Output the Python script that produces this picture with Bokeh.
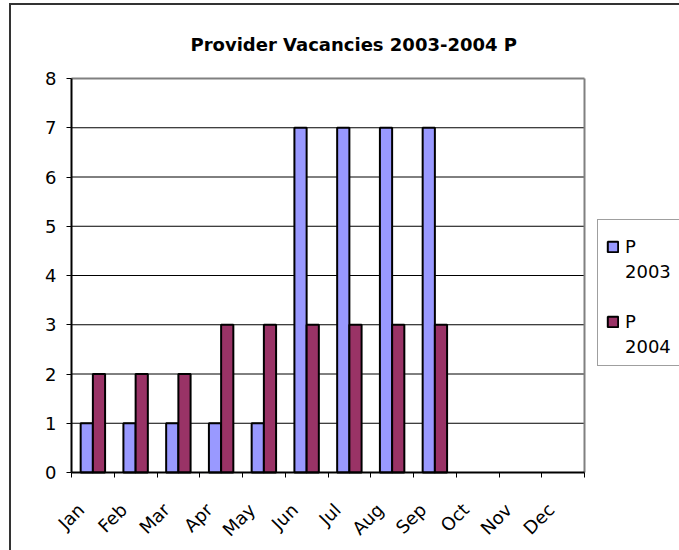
import math
from bokeh.plotting import figure
from bokeh.models import (Range1d, FixedTicker, CustomJSTickFormatter, Legend, LegendItem,
                          ColumnDataSource)
from bokeh.transform import dodge
from bokeh.embed import file_html
from bokeh.resources import INLINE

months = ["Jan", "Feb", "Mar", "Apr", "May", "Jun", "Jul", "Aug", "Sep", "Oct", "Nov", "Dec"]
p_2003 = [1, 1, 1, 1, 1, 7, 7, 7, 7, None, None, None]
p_2004 = [2, 2, 2, 3, 3, 3, 3, 3, 3, None, None, None]
y_ticks = [0, 1, 2, 3, 4, 5, 6, 7, 8]
title_text = "Provider Vacancies 2003-2004  P"

FONT = "DejaVu Sans"
n = len(months)
ymax = y_ticks[-1]
centers = [i + 0.5 for i in range(n)]
nan = float("nan")
src = ColumnDataSource(dict(
    x=centers,
    a=[nan if v is None else v for v in p_2003],
    b=[nan if v is None else v for v in p_2004],
))

# scale: 42.75 px per month, 49.25 px per unit; frame extended to hold the legend
PX_X = 42.75
PX_Y = 49.25
FW, FH = 610, 398
x0 = -2 / PX_X
y0 = -2 / PX_Y
p = figure(frame_width=FW, frame_height=FH,
           x_range=Range1d(x0, x0 + FW / PX_X), y_range=Range1d(y0, y0 + FH / PX_Y),
           output_backend="svg", toolbar_location=None,
           min_border_left=58, min_border_right=0, min_border_top=71, min_border_bottom=66)
p.styles = {"border-top": "2px solid #333333", "border-left": "2px solid #333333",
            "margin-top": "3px", "margin-left": "9px"}
p.background_fill_color = "white"
p.border_fill_color = "white"
p.outline_line_color = None
p.xgrid.grid_line_color = None
p.ygrid.grid_line_color = None

p.title.text = title_text
p.title.text_font = FONT
p.title.text_font_size = "18px"
p.title.text_font_style = "bold"
p.title.text_color = "black"
p.title.align = "left"
p.title.offset = 121
p.title.standoff = 44

# gridlines 1..7 (black), plot-area top/right border (grey), axes lines (black)
inner = y_ticks[1:-1]
p.segment(x0=[0] * len(inner), x1=[n] * len(inner), y0=inner, y1=inner,
          line_color="black", line_width=1)
p.segment(x0=[0, n], x1=[n, n], y0=[ymax, 0], y1=[ymax, ymax], line_color="#808080", line_width=2)

bw = 0.2857
r1 = p.vbar(x=dodge("x", -bw / 2, range=p.x_range), top="a", bottom=0, width=bw, source=src,
            fill_color="#9999FF", line_color="black", line_width=2)
r2 = p.vbar(x=dodge("x", bw / 2, range=p.x_range), top="b", bottom=0, width=bw, source=src,
            fill_color="#993366", line_color="black", line_width=2)
blank = p.scatter(x=[], y=[], fill_alpha=0, line_alpha=0)

p.segment(x0=[0, 0], x1=[n, 0], y0=[0, 0], y1=[0, ymax], line_color="black", line_width=2)

# x axis: ticks between months, rotated month labels
label_pos = [c - 0.28 for c in centers]
xa = p.xaxis[0]
xa.ticker = FixedTicker(ticks=label_pos, minor_ticks=list(range(n + 1)))
xa.formatter = CustomJSTickFormatter(args=dict(labels=months), code="return labels[Math.floor(tick)];")
xa.major_label_orientation = math.pi / 4
xa.axis_line_color = None
xa.major_tick_in = 0
xa.major_tick_out = 0
xa.minor_tick_in = 2
xa.minor_tick_out = 3
xa.minor_tick_line_color = "black"
xa.major_label_text_font = FONT
xa.major_label_text_font_size = "18px"
xa.major_label_text_color = "black"
xa.major_label_standoff = 29

# y axis
ya = p.yaxis[0]
ya.ticker = FixedTicker(ticks=y_ticks)
ya.axis_line_color = None
ya.major_tick_in = 2
ya.major_tick_out = 3
ya.minor_tick_line_color = None
ya.major_tick_line_color = "black"
ya.major_label_text_font = FONT
ya.major_label_text_font_size = "18px"
ya.major_label_text_color = "black"
ya.major_label_standoff = 10

legend = Legend(items=[
    LegendItem(label="P", renderers=[r1]),
    LegendItem(label="2003", renderers=[blank]),
    LegendItem(label=" ", renderers=[blank]),
    LegendItem(label="P", renderers=[r2]),
    LegendItem(label="2004", renderers=[blank]),
], location=(528, 108))
legend.title = " "
legend.title_text_font_size = "6px"
legend.title_standoff = 1
legend.label_text_font = FONT
legend.label_text_font_size = "18px"
legend.label_text_color = "black"
legend.glyph_width = 13
legend.glyph_height = 13
legend.label_height = 22
legend.label_standoff = 6
legend.spacing = 3
legend.padding = 8
legend.margin = 0
legend.border_line_color = "#404040"
legend.border_line_width = 1
legend.background_fill_color = "white"
p.add_layout(legend, "center")

open("out.html", "w").write(file_html(p, INLINE))
